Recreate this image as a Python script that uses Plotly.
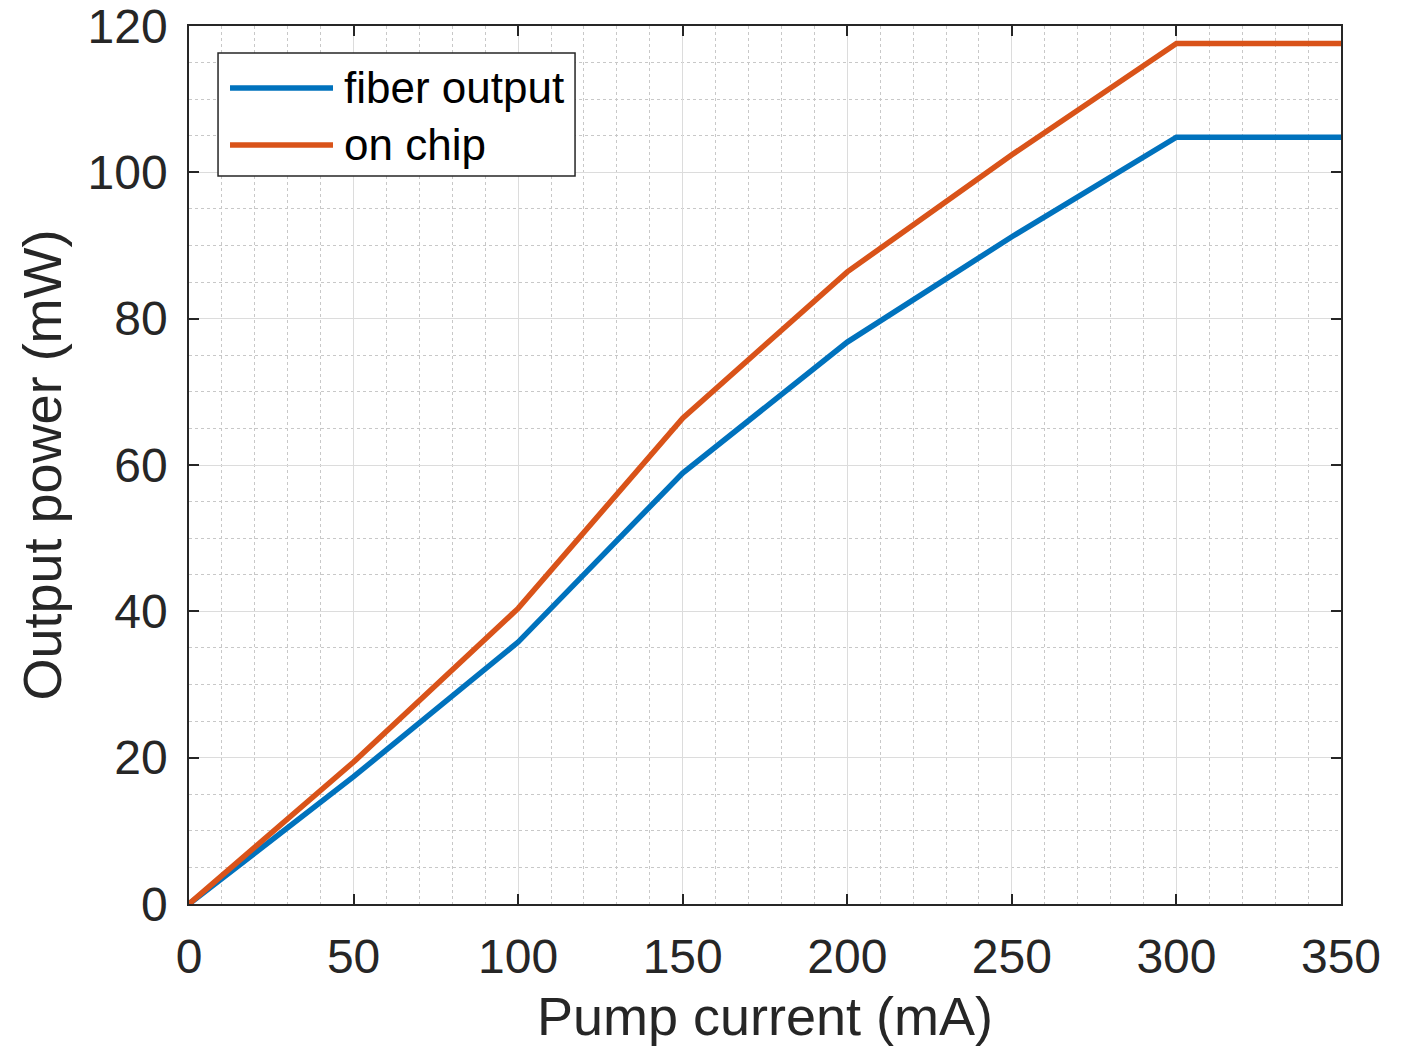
import plotly.graph_objects as go

pump_current = [0, 50, 100, 150, 200, 250, 300, 350]
fiber_output = [0, 17.4, 35.8, 58.9, 76.8, 91.2, 104.8, 104.8]
on_chip = [0, 19.4, 40.4, 66.4, 86.4, 102.4, 117.6, 117.6]

series_names = ["fiber output", "on chip"]
series_colors = ["#0072BD", "#D95319"]

x_ticks = [0, 50, 100, 150, 200, 250, 300, 350]
y_ticks = [0, 20, 40, 60, 80, 100, 120]

font_family = "Liberation Sans, Arial, sans-serif"
axis_color = "#262626"

fig = go.Figure()
for name, vals, col in zip(series_names, [fiber_output, on_chip], series_colors):
    fig.add_trace(go.Scatter(x=pump_current, y=vals, mode="lines", name=name,
                             line=dict(color=col, width=5.5)))

common = dict(
    showline=True, linecolor=axis_color, linewidth=1.5, mirror="ticks",
    ticks="inside", ticklen=10, tickcolor=axis_color, tickwidth=1.5,
    showgrid=True, gridcolor="#DCDCDC", gridwidth=1.2,
    zeroline=False, automargin=False, ticklabeloverflow="allow",
    tickfont=dict(size=48, color=axis_color, family=font_family),
    title_font=dict(size=54, color=axis_color, family=font_family),
)

fig.update_xaxes(range=[0, 350], tickvals=x_ticks, title_text="Pump current (mA)",
                 minor=dict(dtick=10, showgrid=True, gridcolor="#C8C8C8", griddash="dot", gridwidth=1, ticks=""),
                 title_standoff=15, ticklabelstandoff=10, **common)
fig.update_yaxes(range=[0, 120], tickvals=y_ticks, title_text="Output power (mW)",
                 minor=dict(dtick=5, showgrid=True, gridcolor="#C8C8C8", griddash="dot", gridwidth=1, ticks=""),
                 title_standoff=9, ticklabelstandoff=10, **common)

# legend drawn in plot-area fractions
leg_x0, leg_x1, leg_y0, leg_y1 = 0.0252, 0.3351, 0.8292, 0.9692
line_x0, line_x1, text_x = 0.0356, 0.1250, 0.1328
row_y = [0.9294, 0.8645]
fig.add_shape(type="rect", xref="paper", yref="paper", x0=leg_x0, x1=leg_x1, y0=leg_y0, y1=leg_y1,
              line=dict(color=axis_color, width=1.5), fillcolor="white", layer="above")
for name, col, yy in zip(series_names, series_colors, row_y):
    fig.add_shape(type="line", xref="paper", yref="paper", x0=line_x0, x1=line_x1, y0=yy, y1=yy,
                  line=dict(color=col, width=5.5), layer="above")
    fig.add_annotation(xref="paper", yref="paper", x=text_x, y=yy, text=name, showarrow=False,
                       xanchor="left", yanchor="middle",
                       font=dict(size=44, color="black", family=font_family))

fig.update_layout(
    width=1413, height=1056,
    margin=dict(l=189, r=72, t=26, b=152),
    plot_bgcolor="white", paper_bgcolor="white",
    font=dict(family=font_family, color=axis_color),
    showlegend=False,
)

fig.write_html("out.html")
